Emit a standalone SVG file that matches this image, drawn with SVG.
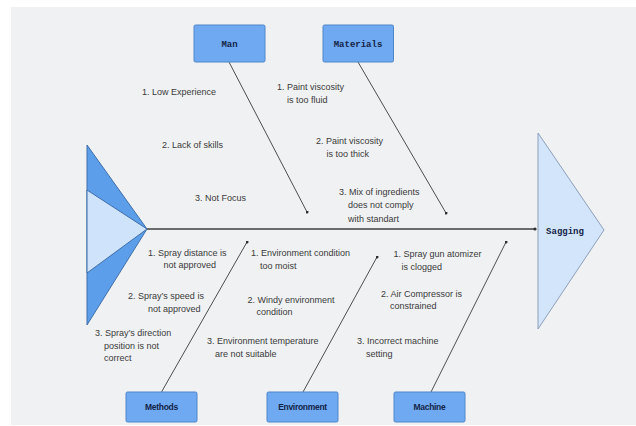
<svg xmlns="http://www.w3.org/2000/svg" width="636" height="426" viewBox="0 0 636 426">
<style>
.bg{fill:#f0f1f3}
.box{fill:#6ea9f1;stroke:#4f86c8;stroke-width:1}
.boxt{font-family:"Liberation Mono","DejaVu Sans Mono",monospace;font-weight:bold;font-size:9px;fill:#142447;text-anchor:middle}
.boxs{font-family:"Liberation Sans",Arial,sans-serif;font-weight:bold;font-size:8.5px;letter-spacing:-0.3px;fill:#142447;text-anchor:middle}
.bone{stroke:#4d4d4d;stroke-width:1;fill:none;marker-end:url(#dot)}
.spine{stroke:#6b6b6b;stroke-width:2;fill:none}
.c{font-family:"Liberation Sans",Arial,sans-serif;font-size:9px;fill:#3a3a3a}
</style>
<defs>
<marker id="dot" viewBox="0 0 4 4" refX="2" refY="2" markerWidth="3" markerHeight="3" markerUnits="userSpaceOnUse">
<circle cx="2" cy="2" r="2" fill="#2f2f2f"/>
</marker>
</defs>
<rect x="0" y="0" width="636" height="426" fill="#ffffff"/>
<rect class="bg" x="11" y="7" width="625" height="418"/>

<g id="tail">
<polygon points="87,145 147,229 87,325" fill="#5d9eea" stroke="#3f6fa8" stroke-width="1"/>
<polygon points="87,190 147,229 87,273" fill="#cfe3fb" stroke="#3f6fa8" stroke-width="1"/>
</g>

<g id="connectors">
<line class="spine" x1="147" y1="229" x2="535" y2="229"/>
<circle cx="535" cy="229" r="1.6" fill="#2f2f2f"/>
<line class="bone" x1="229" y1="62" x2="307" y2="212"/>
<line class="bone" x1="358" y1="62" x2="446" y2="213"/>
<line class="bone" x1="161.5" y1="392" x2="247" y2="242"/>
<line class="bone" x1="303" y1="392" x2="377" y2="257"/>
<line class="bone" x1="431" y1="392" x2="506" y2="242"/>
</g>

<g id="sagging">
<polygon points="538,133 604,230 538,329" fill="#d2e5fb" stroke="#8d9fb9" stroke-width="1"/>
<text class="boxt" x="565" y="234">Sagging</text>
</g>

<g id="man">
<rect class="box" x="194" y="25" width="71" height="37" rx="1.5"/>
<text class="boxt" x="229.5" y="46.5">Man</text>
</g>
<g id="materials">
<rect class="box" x="323" y="25" width="70.5" height="37" rx="1.5"/>
<text class="boxt" x="358" y="46.5">Materials</text>
</g>
<g id="methods">
<rect class="box" x="126" y="392" width="71" height="30" rx="1.5"/>
<text class="boxs" x="161.5" y="410">Methods</text>
</g>
<g id="environment">
<rect class="box" x="267" y="392" width="71" height="30" rx="1.5"/>
<text class="boxs" x="302.5" y="410">Environment</text>
</g>
<g id="machine">
<rect class="box" x="394" y="392" width="71" height="30" rx="1.5"/>
<text class="boxs" x="429.5" y="410">Machine</text>
</g>

<g id="causes">
<text class="c" x="142" y="95">1. Low Experience</text>
<text class="c" x="162" y="148">2. Lack of skills</text>
<text class="c" x="195" y="201">3. Not Focus</text>

<text class="c" x="277" y="90">1. Paint viscosity</text>
<text class="c" x="287" y="102.5">is too fluid</text>
<text class="c" x="316" y="144">2. Paint viscosity</text>
<text class="c" x="326.5" y="156.5">is too thick</text>
<text class="c" x="339" y="195">3. Mix of ingredients</text>
<text class="c" x="348" y="208">does not comply</text>
<text class="c" x="348" y="221.5">with standart</text>

<text class="c" x="148" y="255.5">1. Spray distance is</text>
<text class="c" x="163.5" y="268">not approved</text>
<text class="c" x="128" y="299">2. Spray’s speed is</text>
<text class="c" x="148" y="312">not approved</text>
<text class="c" x="95" y="336">3. Spray’s direction</text>
<text class="c" x="104" y="348.5">position is not</text>
<text class="c" x="104" y="361">correct</text>

<text class="c" x="251" y="256">1. Environment condition</text>
<text class="c" x="260" y="268.5">too moist</text>
<text class="c" x="247.5" y="302.5">2. Windy environment</text>
<text class="c" x="256.5" y="315">condition</text>
<text class="c" x="207" y="344">3. Environment temperature</text>
<text class="c" x="215" y="356.5">are not suitable</text>

<text class="c" x="393.5" y="257">1. Spray gun atomizer</text>
<text class="c" x="401.5" y="269.5">is clogged</text>
<text class="c" x="381" y="296.5">2. Air Compressor is</text>
<text class="c" x="390" y="309">constrained</text>
<text class="c" x="357" y="344">3. Incorrect machine</text>
<text class="c" x="366" y="357">setting</text>
</g>
</svg>
